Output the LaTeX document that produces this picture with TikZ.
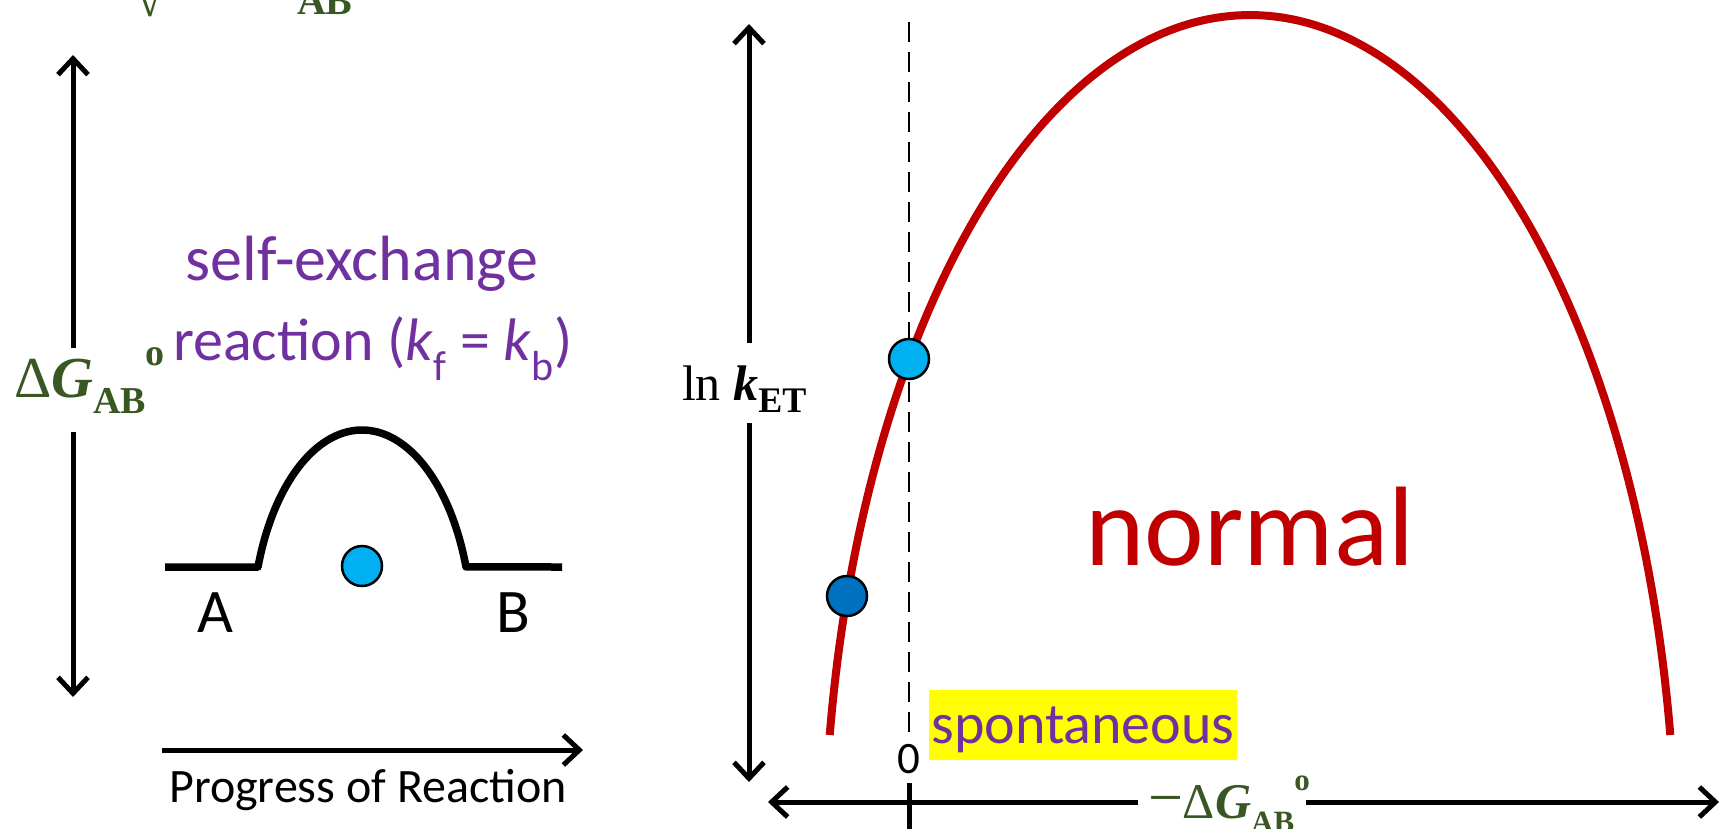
\documentclass[tikz,border=0pt]{standalone}
\usepackage{fontspec}
\setmainfont{Carlito}
\newfontfamily\serifm{Liberation Serif}
\usetikzlibrary{arrows.meta}
\definecolor{myred}{HTML}{C00000}
\definecolor{mypurple}{HTML}{7030A0}
\definecolor{mygreen}{HTML}{385723}
\definecolor{lblue}{HTML}{00B0F0}
\definecolor{dblue}{HTML}{0070C0}
\definecolor{hl}{HTML}{FFFF00}
\newcommand{\fsz}[1]{\fontsize{#1}{#1}\selectfont}
\begin{document}
\begin{tikzpicture}[x=1pt,y=-1pt,
  arr/.style={line width=5pt,-{Straight Barb[length=16pt,width=30pt]}},
  plain/.style={line width=5pt},
  lbl/.style={inner sep=0pt,outer sep=0pt},
  dot/.style={circle,draw=black,line width=2.5pt,minimum size=40pt,inner sep=0pt},
  gtext/.style={lbl,text=mygreen}]
\useasboundingbox (0,0) rectangle (1721,828);
\clip (0,0) rectangle (1721,828);

% cut-off fragments at the top
\node[gtext,anchor=south,font=\serifm\fsz{50}] (f1) at (150,17) {√};
\node[gtext,anchor=south west,font=\serifm\bfseries\fsz{40}] (f2) at (297,15) {AB};

% ---------- left panel ----------
\coordinate (lt) at (73,55);
\coordinate (lg1) at (73,348);
\coordinate (lg2) at (73,432);
\coordinate (lb) at (73,697);
\draw[arr] (lg1) -- (lt);
\draw[arr] (lg2) -- (lb);
\node[gtext,anchor=base west,font=\serifm\fsz{58}] (dG) at (14,397)
  {Δ\textbf{\textit{G}}\raisebox{-0.28em}{\fsz{38}\textbf{AB}}\raisebox{0.55em}{\fsz{38}\textbf{o}}};

\node[lbl,text=mypurple,font=\fsz{64},anchor=base] (se) at (362,280) {self-exchange};
\node[lbl,text=mypurple,font=\fsz{60},anchor=base west] (rx) at (173,360) {reaction (\textit{k}\textsubscript{f} = \textit{k}\textsubscript{b})};

\draw[line width=7.5pt,line join=round] (165,567) -- (258,567)
  -- plot[domain=161:19,samples=80] ({362+110*cos(\x)},{633-203*sin(\x)})
  -- (562,567);
\node[dot,fill=lblue] (d0) at (362,566) {};
\node[lbl,anchor=base,font=\fsz{62}] (A) at (215,632) {A};
\node[lbl,anchor=base,font=\fsz{62}] (B) at (513,632) {B};

\coordinate (ps) at (162,750);
\coordinate (pe) at (583,750);
\draw[arr] (ps) -- (pe);
\node[lbl,anchor=base,font=\fsz{48}] (prog) at (368,802) {Progress of Reaction};

% ---------- right panel ----------
\coordinate (rt) at (749,24);
\coordinate (rg1) at (749,343);
\coordinate (rg2) at (749,423);
\coordinate (rb) at (749,782);
\draw[arr] (rg1) -- (rt);
\draw[arr] (rg2) -- (rb);
\node[lbl,anchor=base west,font=\serifm\fsz{50}] (lnk) at (682,400)
  {ln \textbf{\textit{k}}\raisebox{-0.25em}{\fsz{36}\textbf{ET}}};

\coordinate (xl) at (768,802);
\coordinate (xg1) at (1138,802);
\coordinate (xg2) at (1306,802);
\coordinate (xr) at (1719,802);
\draw[arr] (xg1) -- (xl);
\draw[arr] (xg2) -- (xr);
\node[gtext,anchor=base west,font=\serifm\fsz{50}] (xlab) at (1148,818)
  {{\fsz{62}−}Δ\textbf{\textit{G}}\raisebox{-0.28em}{\fsz{31}\textbf{AB}}\raisebox{0.55em}{\fsz{31}\textbf{o}}};

\coordinate (tk1) at (909,783);
\coordinate (tk2) at (909,830);
\draw[plain] (tk1) -- (tk2);
\node[lbl,anchor=base,font=\fsz{45}] (zero) at (909,773) {0};

\coordinate (dt) at (909,22);
\coordinate (db) at (909,733);
\draw[line width=2pt,dash pattern=on 20pt off 10pt] (dt) -- (db);

\draw[myred,line width=8pt] plot[domain=170.63:9.37,samples=160]
  ({1250+426*cos(\x)},{875-860*sin(\x)});
\node[dot,fill=lblue] (d1) at (909,359) {};
\node[dot,fill=dblue] (d2) at (847,596) {};

\node[lbl,anchor=base,text=myred,font=\fsz{113}] (nrm) at (1250,565) {normal};
\node[anchor=base,fill=hl,inner xsep=2pt,inner ysep=0pt,outer sep=0pt,
  text height=53pt,text depth=17pt,text=mypurple,font=\fsz{58}] (sp) at (1083,743) {spontaneous};
\end{tikzpicture}
\end{document}
